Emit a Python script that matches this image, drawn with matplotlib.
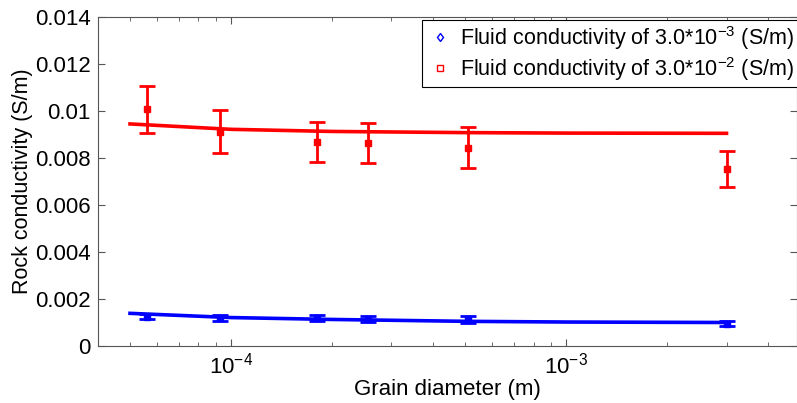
import numpy as np
import matplotlib
matplotlib.use('Agg')
import matplotlib.pyplot as plt
from matplotlib.lines import Line2D
from matplotlib.ticker import LogLocator, FuncFormatter

plt.rcParams['font.family'] = ['Liberation Sans', 'DejaVu Sans']
plt.rcParams['mathtext.fontset'] = 'custom'
plt.rcParams['mathtext.rm'] = 'Liberation Sans'
plt.rcParams['mathtext.it'] = 'Liberation Sans'

# grain diameters (m)
grain = [5.6e-5, 9.3e-5, 1.8e-4, 2.56e-4, 5.1e-4, 3.0e-3]

# measured rock conductivity (S/m) and error bars
blue_y = [1.25e-3, 1.19e-3, 1.20e-3, 1.16e-3, 1.13e-3, 0.95e-3]
blue_err = [1.2e-4, 1.2e-4, 1.2e-4, 1.3e-4, 1.3e-4, 1.2e-4]
red_y = [1.007e-2, 9.12e-3, 8.67e-3, 8.63e-3, 8.44e-3, 7.53e-3]
red_err = [1.0e-3, 0.92e-3, 0.85e-3, 0.86e-3, 0.86e-3, 0.75e-3]

# model curves
model_x = [5e-5, 1e-4, 2e-4, 5e-4, 1e-3, 3e-3]
blue_model = [1.39e-3, 1.21e-3, 1.13e-3, 1.05e-3, 1.02e-3, 1.0e-3]
red_model = [9.45e-3, 9.22e-3, 9.13e-3, 9.08e-3, 9.06e-3, 9.05e-3]

labels = ['Fluid conductivity of 3.0*10$^{-3}$ (S/m)',
          'Fluid conductivity of 3.0*10$^{-2}$ (S/m)']

fig = plt.figure(figsize=(7.97, 4.03), dpi=100)
ax = fig.add_axes([97.5 / 797, 57 / 403, 699 / 797, 329 / 403])

ax.plot(model_x, blue_model, color='blue', lw=2.6)
ax.plot(model_x, red_model, color='red', lw=2.6)
ax.errorbar(grain, blue_y, yerr=blue_err, fmt='s', color='blue', ms=5,
            elinewidth=2, capsize=6, capthick=2)
ax.errorbar(grain, red_y, yerr=red_err, fmt='s', color='red', ms=5,
            elinewidth=2, capsize=6, capthick=2)

ax.set_xscale('log')
ax.set_xlim(4e-5, 4.85e-3)
ax.set_ylim(0, 0.014)
ax.set_yticks(np.arange(0, 0.0141, 0.002))
ax.yaxis.set_major_formatter(FuncFormatter(lambda v, p: '%g' % round(v, 4)))
ax.xaxis.set_major_locator(LogLocator(base=10, numticks=10))
ax.xaxis.set_minor_locator(LogLocator(base=10, subs=np.arange(2, 10), numticks=10))

ax.tick_params(which='both', direction='in', top=True, right=True,
               labelsize=16, color='#555555', pad=5)
ax.tick_params(which='major', length=5)
ax.tick_params(which='minor', length=3)
for s in ax.spines.values():
    s.set_color('#555555')

ax.set_xlabel('Grain diameter (m)', fontsize=16, labelpad=0)
ax.set_ylabel('Rock conductivity (S/m)', fontsize=15.5, labelpad=1)

handles = [Line2D([], [], ls='none', marker='d', mfc='none', mec='blue', ms=4.5),
           Line2D([], [], ls='none', marker='s', mfc='none', mec='red', ms=4.5)]
leg = ax.legend(handles, labels, loc='upper right', fontsize=15.5,
                bbox_to_anchor=(1.003, 0.992), borderaxespad=0,
                fancybox=False, framealpha=1, edgecolor='black',
                handlelength=1.3, handletextpad=0.3, labelspacing=0.15,
                borderpad=0.2)
leg.get_frame().set_linewidth(0.8)

fig.savefig('out.png', dpi=100)
